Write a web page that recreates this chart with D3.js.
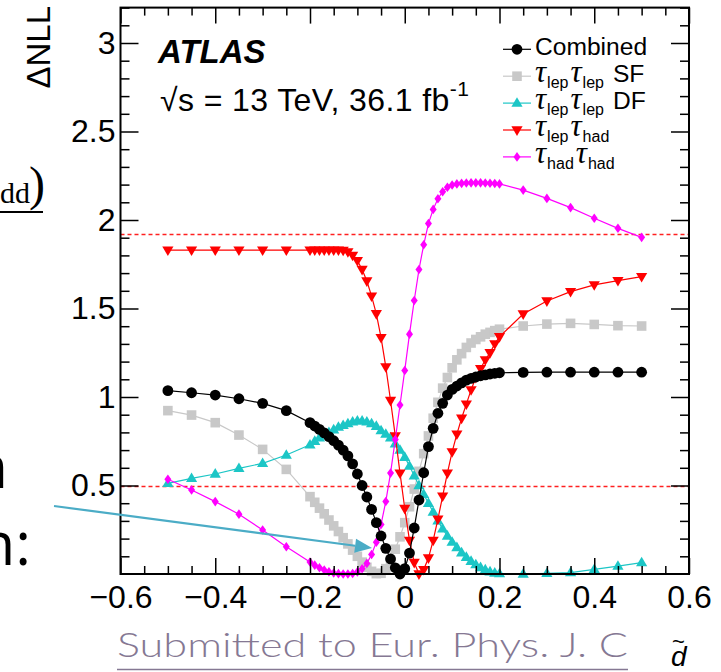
<!DOCTYPE html>
<html>
<head>
<meta charset="utf-8">
<script src="https://cdn.jsdelivr.net/npm/d3@7"></script>
<style>
  html, body { margin: 0; padding: 0; background: #fff; }
  svg { display: block; }
  text { font-family: "Liberation Sans", Arial, Helvetica, sans-serif; }
</style>
</head>
<body>
<svg id="chart" width="721" height="672"></svg>
<script>
// Scan points in d-tilde (coarse at the edges, 0.01 steps around the minimum)
const dTilde = [-0.5,-0.45,-0.4,-0.35,-0.3,-0.25,
  -0.2,-0.19,-0.18,-0.17,-0.16,-0.15,-0.14,-0.13,-0.12,-0.11,-0.1,-0.09,-0.08,-0.07,-0.06,-0.05,-0.04,-0.03,-0.02,-0.01,0,
  0.01,0.02,0.03,0.04,0.05,0.06,0.07,0.08,0.09,0.1,0.11,0.12,0.13,0.14,0.15,0.16,0.17,0.18,0.19,0.2,
  0.25,0.3,0.35,0.4,0.45,0.5];

// Delta NLL per channel
const combined = [1.036,1.024,1.011,0.99,0.964,0.923,
  0.855,0.836,0.817,0.797,0.776,0.753,0.728,0.70,0.667,0.622,0.565,0.50,0.435,0.365,0.29,0.215,0.145,0.085,0.035,0.0,0.03,
  0.118,0.26,0.418,0.572,0.72,0.823,0.908,0.964,1.011,1.043,1.062,1.08,1.095,1.105,1.113,1.12,1.125,1.13,1.134,1.137,
  1.139,1.14,1.14,1.14,1.14,1.14];
const lepLepSF = [0.923,0.898,0.855,0.785,0.704,0.591,
  0.437,0.405,0.372,0.34,0.305,0.272,0.24,0.205,0.17,0.135,0.10,0.067,0.038,0.015,0.002,0.004,0.03,0.075,0.14,0.21,0.29,
  0.38,0.48,0.58,0.68,0.78,0.88,0.97,1.05,1.11,1.165,1.21,1.245,1.28,1.305,1.325,1.34,1.355,1.365,1.375,1.383,
  1.401,1.412,1.416,1.41,1.403,1.401];
const lepLepDF = [0.512,0.54,0.565,0.597,0.625,0.672,
  0.73,0.75,0.77,0.785,0.80,0.815,0.83,0.84,0.85,0.86,0.865,0.865,0.86,0.85,0.835,0.81,0.79,0.77,0.735,0.70,0.66,
  0.61,0.555,0.50,0.45,0.40,0.35,0.30,0.255,0.215,0.18,0.15,0.12,0.095,0.072,0.053,0.037,0.024,0.013,0.006,0.002,
  0.0,0.004,0.008,0.026,0.045,0.064];
const lepHad = [1.83,1.83,1.83,1.83,1.83,1.83,
  1.83,1.83,1.83,1.83,1.83,1.83,1.83,1.828,1.82,1.80,1.77,1.72,1.655,1.57,1.47,1.335,1.17,0.98,0.78,0.57,0.37,
  0.19,0.065,0.0,0.025,0.09,0.19,0.31,0.44,0.57,0.69,0.79,0.88,0.96,1.04,1.11,1.16,1.21,1.25,1.30,1.34,
  1.469,1.542,1.595,1.633,1.657,1.68];
const hadHad = [0.535,0.475,0.409,0.338,0.249,0.154,
  0.068,0.05,0.035,0.023,0.013,0.006,0.002,0.0,0.0,0.003,0.012,0.03,0.06,0.11,0.18,0.28,0.41,0.57,0.76,0.955,1.15,
  1.355,1.545,1.72,1.86,1.98,2.06,2.12,2.16,2.185,2.198,2.204,2.207,2.209,2.21,2.21,2.21,2.209,2.208,2.206,2.204,
  2.169,2.122,2.07,2.01,1.953,1.902];

// Axis ticks and reference levels (68% and 95% CL)
const xTickValues = [-0.6,-0.4,-0.2,0,0.2,0.4,0.6];
const yTickValues = [0.5,1,1.5,2,2.5,3];
const clLevels = [0.5, 1.92];

// Legend labels: pieces are plain text, tau symbol, or subscript
const legendLabels = [
  [["Combined","t"]],
  [["τ","g"],["lep","s"],["τ","g"],["lep","s"],["SF","t"]],
  [["τ","g"],["lep","s"],["τ","g"],["lep","s"],["DF","t"]],
  [["τ","g"],["lep","s"],["τ","g"],["had","s"]],
  [["τ","g"],["had","s"],["τ","g"],["had","s"]]
];

const series = [
  { values: lepLepSF, color: "#c8c8c8", marker: "square",  legend: 1 },
  { values: lepLepDF, color: "#1cc6c6", marker: "triUp",   legend: 2 },
  { values: lepHad,   color: "#ff0000", marker: "triDown", legend: 3 },
  { values: hadHad,   color: "#ff00ff", marker: "diamond", legend: 4 },
  { values: combined, color: "#000000", marker: "circle",  legend: 0 }
];

const svg = d3.select("#chart");
const x = d3.scaleLinear().domain([-0.6, 0.6]).range([120.5, 689]);
const y = d3.scaleLinear().domain([0, 3.2]).range([574, 7.6]);
const [x0, x1] = x.range();
const [yb, yt] = y.range();

function markerPath(type) {
  switch (type) {
    case "circle":  return d3.symbol(d3.symbolCircle, Math.PI * 5.4 * 5.4)();
    case "square":  return "M-4.8,-4.8h9.6v9.6h-9.6Z";
    case "triUp":   return "M0,-5.9L5.6,3.7L-5.6,3.7Z";
    case "triDown": return "M0,5.9L5.6,-3.7L-5.6,-3.7Z";
    case "diamond": return "M0,-4.8L3.5,0L0,4.8L-3.5,0Z";
  }
}

// Confidence-level reference lines
svg.append("g").selectAll("line").data(clLevels).join("line")
  .attr("x1", x0).attr("x2", x1)
  .attr("y1", d => Math.round(y(d)) + 0.5).attr("y2", d => Math.round(y(d)) + 0.5)
  .attr("stroke", "#ff2020").attr("stroke-width", 1.3)
  .attr("stroke-dasharray", "4,3");

// Curves with markers
const line = d3.line().x((d, i) => x(dTilde[i])).y(d => y(d));
series.forEach(s => {
  const g = svg.append("g");
  g.append("path").attr("d", line(s.values))
    .attr("fill", "none").attr("stroke", s.color).attr("stroke-width", 1.2);
  g.selectAll("path.m").data(s.values).join("path").attr("class", "m")
    .attr("d", markerPath(s.marker))
    .attr("transform", (d, i) => `translate(${x(dTilde[i])},${y(d)})`)
    .attr("fill", s.color);
});

// Axes: ticks drawn inward on all four sides
const fmtX = d => d === 0 ? "0" : d3.format(".1f")(d);
const isMajor = (v, arr) => arr.some(m => Math.abs(m - v) < 1e-6);
const xMinor = d3.range(-0.6, 0.6001, 0.05).filter(v => !isMajor(v, xTickValues));
const yMinor = d3.range(0, 3.2001, 0.1).filter(v => !isMajor(v, yTickValues) && v > 0.01);

function axisGroup(axis, tx, ty) {
  const g = svg.append("g").attr("transform", `translate(${tx},${ty})`).call(axis);
  g.select(".domain").remove();
  g.attr("font-size", null).attr("font-family", null);
  g.selectAll(".tick line").attr("stroke", "#000").attr("stroke-width", 1.5);
  g.selectAll(".tick text").attr("fill", "#000").style("font-size", "32px");
  return g;
}
axisGroup(d3.axisLeft(y).tickValues(yMinor).tickSize(-9).tickFormat(""), x0, 0);
axisGroup(d3.axisLeft(y).tickValues(yTickValues).tickSize(-18).tickPadding(5).tickFormat(d3.format("~g")), x0, 0);
axisGroup(d3.axisRight(y).tickValues(yMinor).tickSize(-9).tickFormat(""), x1, 0);
axisGroup(d3.axisRight(y).tickValues(yTickValues).tickSize(-18).tickFormat(""), x1, 0);
axisGroup(d3.axisBottom(x).tickValues(xMinor).tickSize(-8).tickFormat(""), 0, yb);
axisGroup(d3.axisBottom(x).tickValues(xTickValues).tickSize(-16).tickPadding(11).tickFormat(fmtX), 0, yb);
axisGroup(d3.axisTop(x).tickValues(xMinor).tickSize(-8).tickFormat(""), 0, yt);
axisGroup(d3.axisTop(x).tickValues(xTickValues).tickSize(-16).tickFormat(""), 0, yt);

// Frame
svg.append("rect").attr("x", x0).attr("y", yt).attr("width", x1 - x0).attr("height", yb - yt)
  .attr("fill", "none").attr("stroke", "#000").attr("stroke-width", 2);

// Y-axis title
svg.append("text").attr("transform", `translate(50,${yt + 81}) rotate(-90)`)
  .attr("text-anchor", "start").style("font-size", "33px").text("ΔNLL");

// X-axis title: d with a tilde accent
const xt = svg.append("text").attr("x", 671).attr("y", 666);
xt.append("tspan").style("font-size", "28px").style("font-style", "italic").text("d");
xt.append("tspan").attr("x", 672).attr("y", 649).style("font-size", "22px").text("~");

// ATLAS label
svg.append("text").attr("x", 158).attr("y", 63).style("font-size", "33px")
  .style("font-weight", "bold").style("font-style", "italic").text("ATLAS");
const lum = svg.append("text").attr("x", 160).attr("y", 111).style("font-size", "32px")
  .style("letter-spacing", "0.4px");
lum.append("tspan").text("√s = 13 TeV, 36.1 fb");
lum.append("tspan").attr("dy", -15).style("font-size", "21px").text("-1");

// Legend
const legX = 517, legY0 = 49.3, legDy = 26.9;
legendLabels.forEach((pieces, row) => {
  const s = series.find(q => q.legend === row);
  const cy = legY0 + row * legDy;
  svg.append("line").attr("x1", legX - 14).attr("x2", legX + 14).attr("y1", cy).attr("y2", cy)
    .attr("stroke", s.color).attr("stroke-width", 1.2);
  svg.append("path").attr("d", markerPath(s.marker))
    .attr("transform", `translate(${legX},${cy})`).attr("fill", s.color);
  const t = svg.append("text").attr("x", 535).attr("y", cy + 6);
  let shifted = false;
  pieces.forEach(([txt, kind], k) => {
    const ts = t.append("tspan").text(txt);
    if (kind === "s" && !shifted) { ts.attr("dy", 6).attr("dx", 1); shifted = true; }
    else if (kind !== "s" && shifted) { ts.attr("dy", -6).attr("dx", kind === "t" ? 9 : 2); shifted = false; }
    if (kind === "g") {
      ts.style("font-family", "'Liberation Serif', serif")
        .style("font-style", "italic").style("font-size", "31px");
    } else if (kind === "s") {
      ts.style("font-size", "16px");
    } else {
      ts.style("font-size", "24.6px");
    }
  });
});

// Slide content around the plot
const slideFont = "'Open Sans', 'Noto Sans', sans-serif";
const frac = svg.append("text").attr("x", 0).attr("y", 203)
  .style("font-family", "'Liberation Serif', serif");
frac.append("tspan").style("font-size", "30px").text("dd");
frac.append("tspan").attr("x", 29).attr("y", 200).style("font-size", "48px").text(")");
svg.append("line").attr("x1", 0).attr("x2", 43).attr("y1", 212).attr("y2", 212)
  .attr("stroke", "#000").attr("stroke-width", 2);
svg.append("text").attr("x", 8).attr("y", 488).attr("text-anchor", "end")
  .style("font-family", slideFont).style("font-size", "60px").text("n");
svg.append("text").attr("x", 31).attr("y", 565).attr("text-anchor", "end")
  .style("font-family", slideFont).style("font-size", "60px").text("n:");

// Pointer arrow
const tail = [54, 506], tip = [372, 548];
const L = Math.hypot(tip[0] - tail[0], tip[1] - tail[1]);
const u = [(tip[0] - tail[0]) / L, (tip[1] - tail[1]) / L];
const nrm = [-u[1], u[0]];
const hb = [tip[0] - 17 * u[0], tip[1] - 17 * u[1]];
svg.append("line").attr("x1", tail[0]).attr("y1", tail[1]).attr("x2", hb[0]).attr("y2", hb[1])
  .attr("stroke", "#4bacc6").attr("stroke-width", 2.2);
svg.append("path").attr("d", `M${tip}L${hb[0] + 7 * nrm[0]},${hb[1] + 7 * nrm[1]}L${hb[0] - 7 * nrm[0]},${hb[1] - 7 * nrm[1]}Z`)
  .attr("fill", "#4bacc6");

// Citation
svg.append("text").attr("x", 117).attr("y", 657).attr("textLength", 511).attr("lengthAdjust", "spacingAndGlyphs")
  .style("font-family", "Lato, 'Open Sans', sans-serif").style("font-weight", 300)
  .style("font-size", "34px").attr("fill", "#857893")
  .text("Submitted to Eur. Phys. J. C");
svg.append("line").attr("x1", 117).attr("x2", 628).attr("y1", 669.5).attr("y2", 669.5)
  .attr("stroke", "#857893").attr("stroke-width", 1.5);
</script>
</body>
</html>
